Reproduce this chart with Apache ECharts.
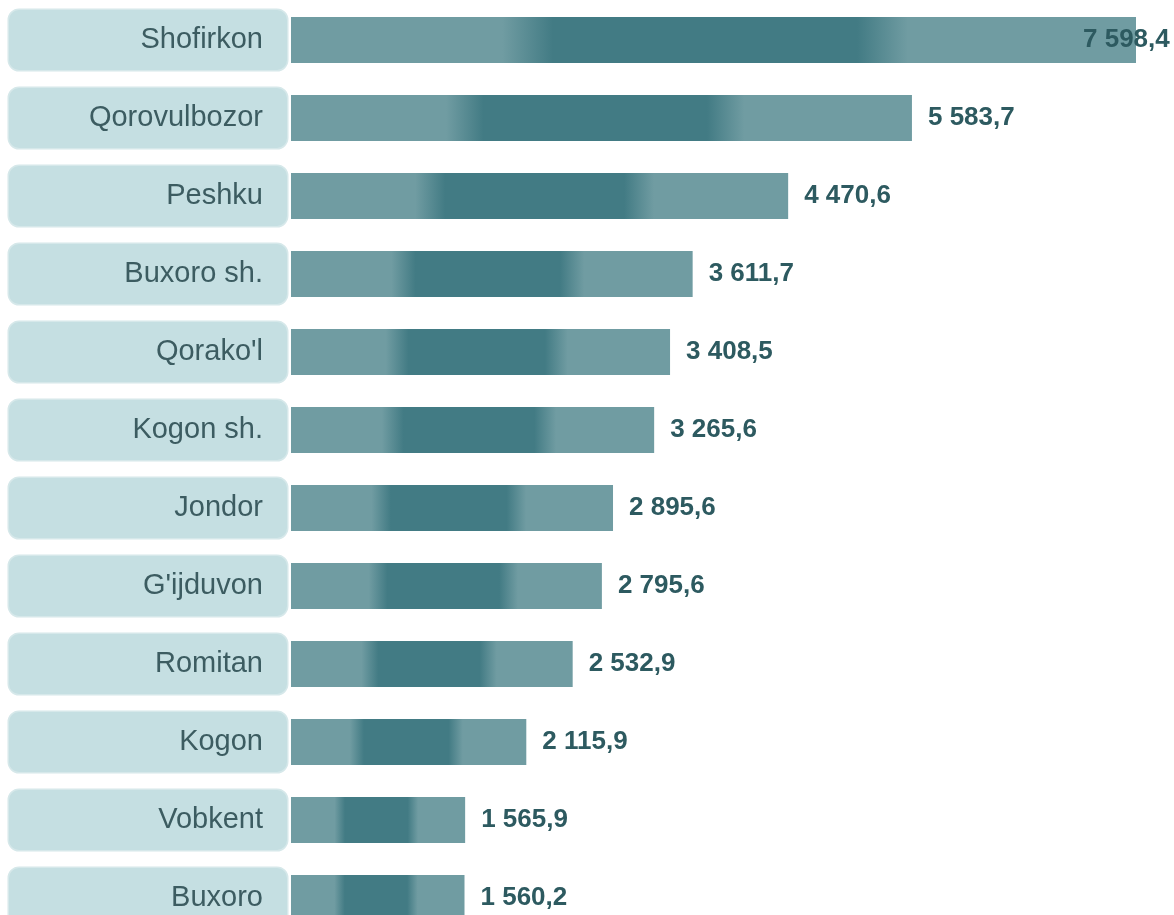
<!DOCTYPE html>
<html>
<head>
<meta charset="utf-8">
<script src="https://cdn.jsdelivr.net/npm/echarts@6/dist/echarts.min.js"></script>
<style>
html,body{margin:0;padding:0;background:#fff;overflow:hidden;width:1174px;height:915px;}
#chart{width:1174px;height:940px;}
</style>
</head>
<body>
<div id="chart"></div>
<script>
const categories = ['Shofirkon','Qorovulbozor','Peshku','Buxoro sh.','Qorako\'l','Kogon sh.','Jondor','G\'ijduvon','Romitan','Kogon','Vobkent','Buxoro'];
const values = [7598.4, 5583.7, 4470.6, 3611.7, 3408.5, 3265.6, 2895.6, 2795.6, 2532.9, 2115.9, 1565.9, 1560.2];

const LIGHT = '#709ca2', DARK = '#427b84';
function fmt(v){
  const s = v.toFixed(1).split('.');
  return s[0].replace(/\B(?=(\d{3})+(?!\d))/g, ' ') + ',' + s[1];
}
const maxVal = Math.max(...values);
const seriesData = values.map(v => {
  const item = { value: v };
  if (v === maxVal) item.label = { offset: [-69, 0] };
  return item;
});

const chart = echarts.init(document.getElementById('chart'));
chart.setOption({
  animation: false,
  grid: { left: 291, right: 38, top: 1, height: 936, containLabel: false },
  xAxis: { type: 'value', min: 0, max: maxVal, show: false },
  yAxis: {
    type: 'category', data: categories, inverse: true,
    axisLine: { show: false }, axisTick: { show: false },
    axisLabel: {
      margin: 4,
      width: 254, height: 60, lineHeight: 60,
      padding: [0, 24, 0, 0],
      align: 'right',
      backgroundColor: '#c5dfe2',
      borderColor: '#d6e8ea', borderWidth: 1.5,
      borderRadius: 10,
      color: '#3c5c61',
      fontFamily: '"Liberation Sans Narrow", "Arial Narrow", "Liberation Sans", Arial, sans-serif',
      fontSize: 29
    }
  },
  series: [{
    type: 'bar',
    data: seriesData,
    barWidth: 46,
    itemStyle: {
      color: new echarts.graphic.LinearGradient(0, 0, 1, 0, [
        { offset: 0, color: LIGHT },
        { offset: 0.25, color: LIGHT },
        { offset: 0.31, color: DARK },
        { offset: 0.67, color: DARK },
        { offset: 0.73, color: LIGHT },
        { offset: 1, color: LIGHT }
      ])
    },
    label: {
      show: true, position: 'right', distance: 16,
      formatter: p => fmt(p.value),
      color: '#2d5a60', fontWeight: 'bold', fontSize: 26,
      fontFamily: '"Liberation Sans", Arial, sans-serif'
    }
  }]
});
</script>
</body>
</html>
